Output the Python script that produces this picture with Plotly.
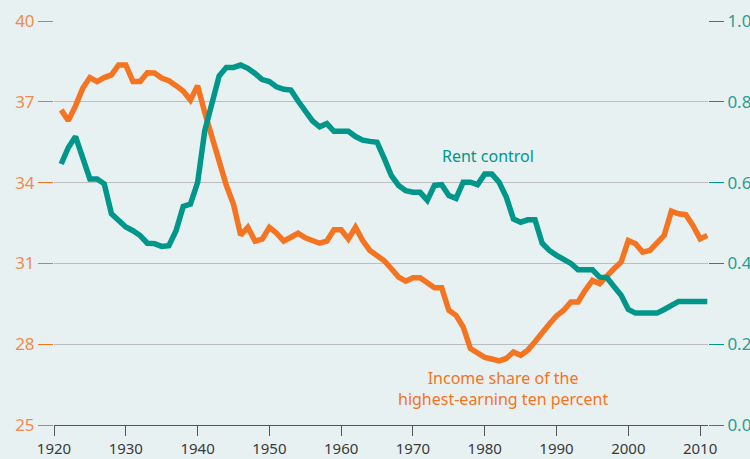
import plotly.graph_objects as go

# ── Data ─────────────────────────────────────────────────────────────────
years = list(range(1921, 2012))

income_share = [
    36.7, 36.3, 36.85, 37.5, 37.9, 37.75, 37.9, 38.0, 38.37, 38.37,   # 1921-30
    37.75, 37.75, 38.08, 38.07, 37.88, 37.78, 37.6, 37.4, 37.06, 37.6,  # 1931-40
    36.6, 35.7, 34.65, 33.9, 33.2, 32.05, 32.34, 31.83, 31.9, 32.34,    # 1941-50
    32.12, 31.83, 31.97, 32.12, 31.95, 31.85, 31.75, 31.83, 32.25, 32.25,  # 1951-60
    31.91, 32.34, 31.85, 31.48, 31.3, 31.1, 30.8, 30.49, 30.34, 30.47,  # 1961-70
    30.47, 30.3, 30.1, 30.1, 29.26, 29.07, 28.64, 27.84, 27.66, 27.51,  # 1971-80
    27.45, 27.38, 27.47, 27.71, 27.59, 27.78, 28.09, 28.46, 28.75, 29.05,  # 1981-90
    29.26, 29.57, 29.57, 30.0, 30.37, 30.25, 30.56, 30.8, 31.05, 31.85,  # 1991-2000
    31.73, 31.42, 31.48, 31.75, 32.04, 32.94, 32.84, 32.81, 32.41, 31.91,  # 2001-10
    32.04,                                                              # 2011
]

rent_control = [
    0.646, 0.687, 0.714, 0.662, 0.609, 0.609, 0.597, 0.523, 0.505, 0.49,   # 1921-30
    0.481, 0.469, 0.45, 0.449, 0.442, 0.444, 0.481, 0.541, 0.547, 0.6,     # 1931-40
    0.728, 0.8, 0.864, 0.885, 0.885, 0.891, 0.883, 0.87, 0.855, 0.85,      # 1941-50
    0.837, 0.831, 0.829, 0.802, 0.778, 0.753, 0.738, 0.746, 0.727, 0.727,  # 1951-60
    0.727, 0.714, 0.705, 0.702, 0.7, 0.66, 0.617, 0.593, 0.58, 0.576,      # 1961-70
    0.576, 0.556, 0.593, 0.595, 0.568, 0.561, 0.601, 0.601, 0.595, 0.621,  # 1971-80
    0.621, 0.601, 0.564, 0.51, 0.502, 0.508, 0.508, 0.45, 0.432, 0.42,     # 1981-90
    0.41, 0.4, 0.384, 0.384, 0.384, 0.366, 0.365, 0.343, 0.321, 0.286,     # 1991-2000
    0.277, 0.277, 0.277, 0.277, 0.286, 0.296, 0.306, 0.306, 0.306, 0.306,  # 2001-10
    0.306,                                                                  # 2011
]

left_ticks = [25, 28, 31, 34, 37, 40]
right_ticks = [0.0, 0.2, 0.4, 0.6, 0.8, 1.0]
right_labels = ["0.0", "0.2", "0.4", "0.6", "0.8", "1.0"]
x_ticks = list(range(1920, 2011, 10))

ORANGE = "#f47421"
ORANGE_TXT = "#f28a4f"
TEAL = "#00968a"
TEAL_TXT = "#2a9d93"
BG = "#e8f1f2"
FONT = "Noto Sans"

fig = go.Figure()

fig.add_trace(go.Scatter(
    x=years, y=income_share, mode="lines", yaxis="y",
    line=dict(color=ORANGE, width=5.5), showlegend=False
))
fig.add_trace(go.Scatter(
    x=years, y=rent_control, mode="lines", yaxis="y2",
    line=dict(color=TEAL, width=5.5), showlegend=False
))

fig.add_annotation(
    x=1980.5, y=0.667, xref="x", yref="y2", text="Rent control",
    showarrow=False, font=dict(family=FONT, size=16, color=TEAL)
)
fig.add_annotation(
    x=1982.5, y=26.35, xref="x", yref="y",
    text="Income share of the<br>highest-earning ten percent",
    showarrow=False, font=dict(family=FONT, size=16, color=ORANGE)
)

fig.update_layout(
    width=750, height=459,
    paper_bgcolor=BG, plot_bgcolor=BG,
    margin=dict(l=54, r=42, t=21, b=34),
    font=dict(family=FONT),
    xaxis=dict(
        range=[1920, 2011.1], tickvals=x_ticks, showgrid=False,
        showline=True, linecolor="#555555", linewidth=1.2,
        ticks="outside", ticklen=10, tickcolor="#555555",
        tickfont=dict(size=15, color="#3a3a3a"), zeroline=False,
        automargin=False
    ),
    yaxis=dict(
        range=[25, 40], tickvals=left_ticks, showgrid=True,
        gridcolor="#bdbdbd", gridwidth=1, zeroline=False,
        ticks="outside", ticklen=15, tickcolor=ORANGE,
        tickfont=dict(size=17, color=ORANGE_TXT), showline=False,
        automargin=False
    ),
    yaxis2=dict(
        range=[0, 1], overlaying="y", side="right",
        tickvals=right_ticks, ticktext=right_labels, showgrid=False,
        zeroline=False, ticks="outside", ticklen=15, tickcolor=TEAL,
        tickfont=dict(size=17, color=TEAL_TXT), showline=False,
        automargin=False
    ),
)

# the page's default 8px body margin would push the figure off-canvas
fig.write_html("out.html", config={"displayModeBar": False},
               post_script="document.body.style.margin = '0px';")
